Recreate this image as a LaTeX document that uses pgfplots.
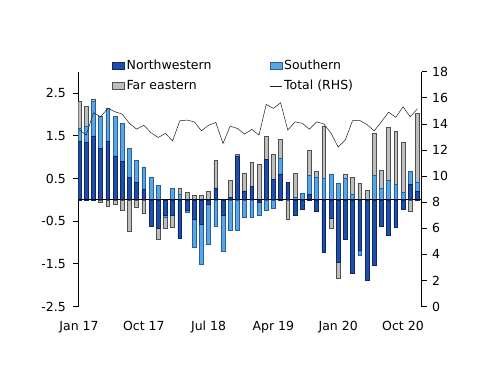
\documentclass[border=0pt]{standalone}
\usepackage{pgfplots}
\usepackage{pgfplotstable}
\pgfplotsset{compat=1.18}
\usepackage{fontspec}
\setmainfont{DejaVu Sans}

\definecolor{nwfill}{RGB}{30,80,168}
\definecolor{nwdraw}{RGB}{12,38,105}
\definecolor{sfill}{RGB}{92,166,224}
\definecolor{sdraw}{RGB}{35,95,165}
\definecolor{fefill}{RGB}{190,190,190}
\definecolor{fedraw}{RGB}{80,80,80}
\definecolor{linecol}{RGB}{30,30,30}

\pgfplotstableread{
i NW S FE Tot
0 1.37 0.30 0.63 13.57
1 1.35 0.37 0.46 13.14
2 1.50 0.80 0.06 14.85
3 1.20 0.76 -0.06 14.55
4 1.37 0.77 -0.14 15.19
5 1.03 0.93 -0.10 14.93
6 0.90 0.89 -0.24 14.75
7 0.53 0.67 -0.74 14.04
8 0.41 0.52 -0.18 13.60
9 0.24 0.53 -0.31 13.90
10 -0.61 0.54 0.00 13.32
11 -0.66 0.33 -0.27 12.96
12 -0.36 -0.05 -0.25 13.27
13 -0.37 0.26 -0.27 12.70
14 -0.89 0.14 0.12 14.24
15 -0.24 -0.06 0.17 14.29
16 -0.45 -0.67 0.10 14.16
17 -0.58 -0.94 0.10 13.47
18 -0.10 -0.93 0.20 13.90
19 0.28 -0.62 0.64 14.11
20 -0.36 -0.84 0.00 12.50
21 0.05 -0.71 0.40 13.83
22 1.03 -0.71 0.03 13.65
23 0.21 -0.40 0.42 13.22
24 0.31 -0.41 0.57 13.58
25 -0.05 -0.32 0.83 13.14
26 0.95 -0.24 0.53 15.49
27 0.48 -0.19 0.58 15.19
28 0.61 0.37 0.43 15.62
29 0.41 0.00 -0.46 13.52
30 -0.35 0.07 0.55 14.16
31 -0.22 0.15 0.00 14.04
32 0.14 0.44 0.58 13.60
33 -0.26 0.52 0.14 14.16
34 -1.23 0.50 1.23 14.00
35 -0.44 0.61 -0.23 13.30
36 -1.45 0.38 -0.38 12.22
37 -0.92 0.50 0.11 12.78
38 -1.72 0.13 0.39 14.26
39 -1.17 -0.12 0.38 14.26
40 -1.89 0.00 0.22 13.95
41 -1.54 0.58 0.97 13.47
42 -0.61 0.27 0.42 14.16
43 -0.84 0.45 1.24 14.90
44 -0.65 0.36 1.24 14.50
45 -0.22 0.17 1.17 15.31
46 0.36 0.30 -0.26 14.55
47 0.19 0.23 1.61 15.15
}\data

\pgfplotsset{
  base/.style={at={(78.3pt,79.4pt)}, anchor=south west, scale only axis,
    width=343.4pt, height=234.9pt, xmin=-0.1, xmax=47.6},
  bars/.style={base, ymin=-2.5, ymax=3, ybar stacked, bar width=3.8pt},
}

\begin{document}
\begin{tikzpicture}[font=\fontsize{12.5}{15}\selectfont]
\path[use as bounding box] (0,0) rectangle (500pt,386pt);

% positive parts + left axis + legend
\begin{axis}[bars,
  axis x line*=bottom, axis y line*=left,
  x axis line style={draw=none},
  y axis line style={line width=0.8pt},
  xtick={0,9,18,27,36,45},
  xticklabels={Jan 17,Oct 17,Jul 18,Apr 19,Jan 20,Oct 20},
  xtick style={draw=none},
  xticklabel style={yshift=-6pt},
  ytick={-2.5,-1.5,-0.5,0.5,1.5,2.5},
  yticklabels={-2.5,-1.5,-0.5,0.5,1.5,2.5},
  ytick style={black, line width=0.8pt},
  tick align=outside, major tick length=5pt,
  yticklabel style={xshift=-4pt},
  legend columns=2,
  legend cell align=left,
  legend style={at={(0.098,1.058)}, anchor=north west, draw=none, fill=none,
    inner sep=0pt, row sep=5pt,
    font=\fontsize{12.5}{15}\selectfont},
]
\addplot[forget plot, fill=nwfill, draw=nwdraw, line width=0.5pt] table[x=i, y expr={max(\thisrow{NW},0)}] {\data};
\addplot[forget plot, fill=sfill, draw=sdraw, line width=0.5pt] table[x=i, y expr={max(\thisrow{S},0)}] {\data};
\addplot[forget plot, fill=fefill, draw=fedraw, line width=0.5pt] table[x=i, y expr={max(\thisrow{FE},0)}] {\data};
\addlegendimage{legend image code/.code={\draw[fill=nwfill,draw=nwdraw,line width=0.5pt] (0pt,-3.5pt) rectangle (12pt,3.5pt);}}
\addlegendentry{\makebox[141pt][l]{Northwestern}}
\addlegendimage{legend image code/.code={\draw[fill=sfill,draw=sdraw,line width=0.5pt] (0pt,-3.5pt) rectangle (12pt,3.5pt);}}
\addlegendentry{Southern}
\addlegendimage{legend image code/.code={\draw[fill=fefill,draw=fedraw,line width=0.5pt] (0pt,-3.5pt) rectangle (12pt,3.5pt);}}
\addlegendentry{\makebox[141pt][l]{Far eastern}}
\addlegendimage{legend image code/.code={\draw[linecol,line width=0.5pt] (0pt,0pt) -- (12pt,0pt);}}
\addlegendentry{Total (RHS)}
\end{axis}

% negative parts
\begin{axis}[bars, hide axis]
\addplot[fill=nwfill, draw=nwdraw, line width=0.5pt] table[x=i, y expr={min(\thisrow{NW},0)}] {\data};
\addplot[fill=sfill, draw=sdraw, line width=0.5pt] table[x=i, y expr={min(\thisrow{S},0)}] {\data};
\addplot[fill=fefill, draw=fedraw, line width=0.5pt] table[x=i, y expr={min(\thisrow{FE},0)}] {\data};
\draw[black, line width=0.8pt] ({rel axis cs:0,0}|-{axis cs:0,0}) -- ({rel axis cs:1,0}|-{axis cs:0,0});
\end{axis}

% right axis with total
\begin{axis}[base, ymin=0, ymax=18,
  axis y line*=right, axis x line=none,
  y axis line style={line width=0.8pt},
  ytick={0,2,4,6,8,10,12,14,16,18},
  yticklabels={0,2,4,6,8,10,12,14,16,18},
  ytick style={black, line width=0.8pt},
  tick align=outside, major tick length=5pt,
  yticklabel style={xshift=2pt},
]
\addplot[linecol, line width=0.5pt, mark=none] table[x=i, y=Tot] {\data};
\end{axis}
\end{tikzpicture}
\end{document}
